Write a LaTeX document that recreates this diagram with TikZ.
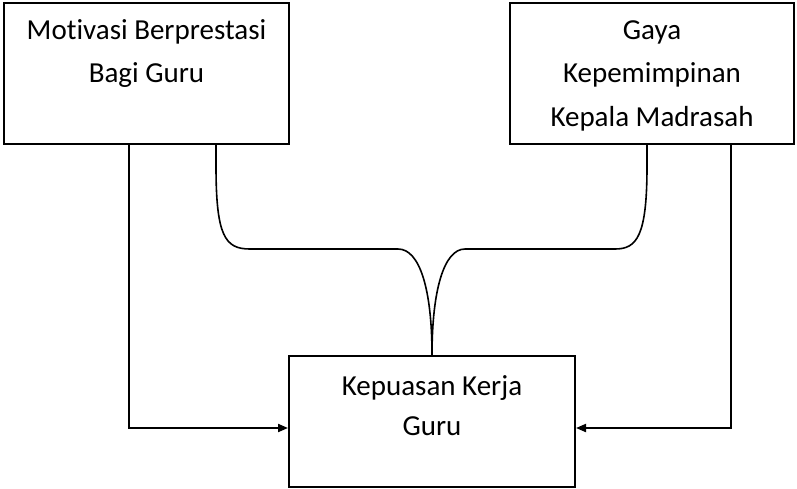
\documentclass[tikz,border=0pt]{standalone}
\usepackage{fontspec}
\setmainfont{Carlito}[Ligatures={NoCommon}]
\usetikzlibrary{arrows.meta}
\tikzset{
  box/.style={draw, line width=2pt, inner sep=0pt, rectangle},
  lbl/.style={inner sep=0pt, anchor=north, align=center, font=\fontsize{29}{43.5}\selectfont},
  lblb/.style={inner sep=0pt, anchor=north, align=center, font=\fontsize{29}{40}\selectfont},
  conn/.style={line width=2pt},
  arr/.style={line width=2pt, -{Triangle[length=10pt,width=8pt]}},
  curve/.style={line width=1.6pt}
}
\begin{document}
\begin{tikzpicture}[x=1pt,y=-1pt]
\useasboundingbox (0,0) rectangle (797,488);
\node[box, minimum width=285pt, minimum height=141pt] (L) at (146.5,73.5) {};
\node[box, minimum width=284pt, minimum height=141pt] (R) at (652,73.5) {};
\node[box, minimum width=286pt, minimum height=131pt] (B) at (432,421.5) {};
\node[lbl] (Lt) at (146.5,19) {\rule{0pt}{20pt}Motivasi Berprestasi\\Bagi Guru};
\node[lbl] (Rt) at (652,19) {\rule{0pt}{20pt}Gaya\\Kepemimpinan\\Kepala Madrasah};
\node[lblb] (Bt) at (432,375) {\rule{0pt}{20pt}Kepuasan Kerja\\Guru};
\coordinate (la) at ([xshift=-161pt]L.south east);
\coordinate (lc) at ([xshift=-74pt]L.south east);
\coordinate (rc) at ([xshift=-5pt]R.south);
\coordinate (ra) at ([xshift=79pt]R.south);
\draw[arr] (la) |- ([yshift=-6.5pt]B.west);
\draw[arr] (ra) |- ([yshift=-6.5pt]B.east);
\draw[curve] (lc) -- ++(0,21) .. controls +(0,70) and (225,249) .. (250,249) -- (398,249) .. controls (420,249) and (432,290) .. (B.north);
\draw[curve] (rc) -- ++(0,21) .. controls +(0,70) and (637,249) .. (615,249) -- (465,249) .. controls (444,249) and (432,290) .. (B.north);
\end{tikzpicture}
\end{document}
